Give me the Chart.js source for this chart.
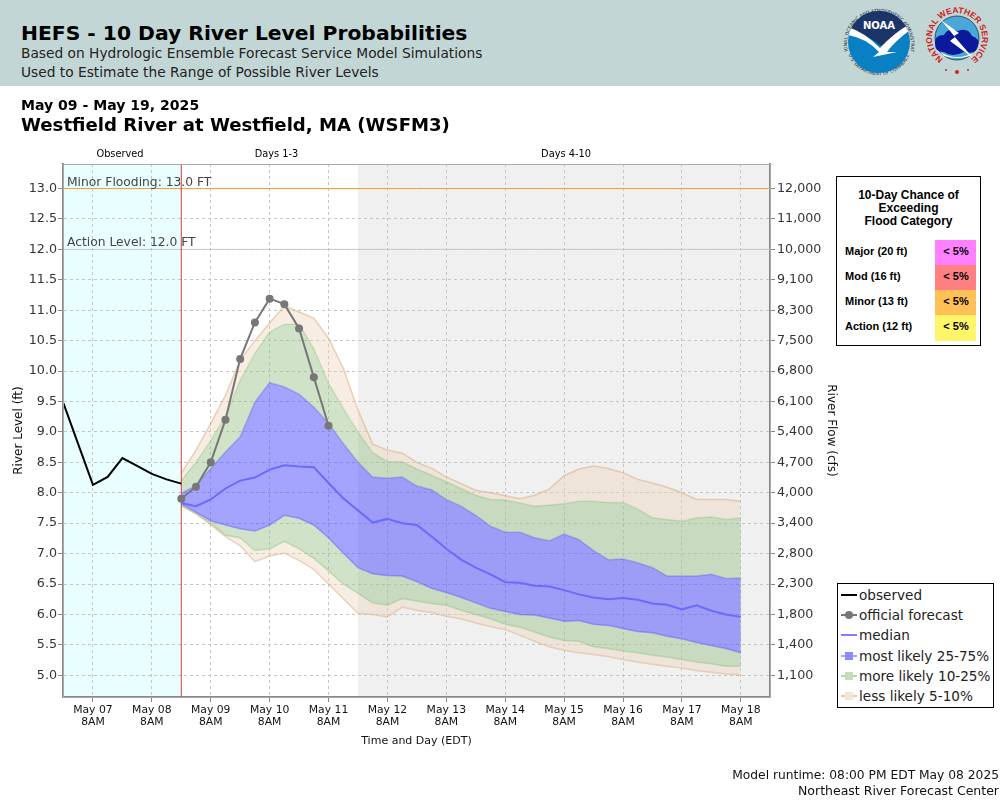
<!DOCTYPE html>
<html>
<head>
<meta charset="utf-8">
<title>HEFS - 10 Day River Level Probabilities</title>
<script src="https://cdn.jsdelivr.net/npm/chart.js@4/dist/chart.umd.js"></script>
<style>
  html, body { margin: 0; padding: 0; background: #fff; }
  body { position: relative; width: 1000px; height: 800px; overflow: hidden; font-family: "DejaVu Sans", sans-serif; color: #000; }
  #chart { position: absolute; left: 0; top: 0; }
  #banner { position: absolute; left: 0; top: 0; width: 1000px; height: 86px; background: #c2d7d5; }
  .t { position: absolute; white-space: nowrap; line-height: 1; }
  .zone { font-size: 9.8px; transform: translateX(-50%); top: 149px; }
  #floodBox { position: absolute; left: 836px; top: 176px; width: 143px; height: 168px; border: 1px solid #000; background: #fff; font-family: "Liberation Sans", sans-serif; font-weight: bold; }
  #floodTitle { position: absolute; left: 0; width: 143px; top: 12px; text-align: center; font-size: 12px; line-height: 13px; }
  .floodLabel { position: absolute; left: 8px; font-size: 11px; }
  .floodCell { position: absolute; left: 98px; width: 41px; padding-left: 1px; box-sizing: border-box; text-align: center; font-size: 11px; }
  #legendBox { position: absolute; left: 837px; top: 583px; width: 155px; height: 123px; border: 1px solid #000; background: #fff; }
  .legRow { position: absolute; left: 21px; font-size: 13.6px; line-height: 20px; color: #222; white-space: nowrap; }
  .legLine { position: absolute; left: 3px; width: 16px; height: 2px; }
  .legMark { position: absolute; left: 7px; width: 8px; height: 8px; }
</style>
</head>
<body>
<canvas id="chart" width="1000" height="800"></canvas>

<div id="banner">
  <div class="t" style="left:21px;top:23px;font-size:20.3px;font-weight:bold;">HEFS - 10 Day River Level Probabilities</div>
  <div class="t" style="left:21px;top:47px;font-size:13.76px;color:#222;">Based on Hydrologic Ensemble Forecast Service Model Simulations</div>
  <div class="t" style="left:21px;top:66px;font-size:13.76px;color:#222;">Used to Estimate the Range of Possible River Levels</div>

  <svg style="position:absolute;left:838px;top:0" width="162" height="86" viewBox="838 0 162 86">
    <defs>
      <path id="noaaTop" d="M848 52 A32 32 0 1 1 910 52"/>
      <path id="noaaBot" d="M849 56 A33 33 0 0 0 909 56"/>
      <path id="nwsRing" d="M946.4 60.7 A25 25 0 1 1 967.6 60.7"/>
      <clipPath id="noaaClip"><circle cx="879" cy="42" r="31"/></clipPath>
    </defs>
    <text font-size="4.6" fill="#223"><textPath href="#noaaTop" startOffset="50%" text-anchor="middle">NATIONAL OCEANIC AND ATMOSPHERIC ADMINISTRATION</textPath></text>
    <text font-size="4.6" fill="#223"><textPath href="#noaaBot" startOffset="50%" text-anchor="middle">U.S. DEPARTMENT OF COMMERCE</textPath></text>
    <g clip-path="url(#noaaClip)">
      <rect x="848" y="11" width="62" height="62" fill="#0a80c4"/>
      <path d="M848 11 H910 V26 Q896 36 881 46 Q866 34 848 28 Z" fill="#1c3568"/>
      <path d="M848 27 Q864 32 880 48 Q895 32 910 24 L910 30 Q894 42 887 52 L897 52 L873 57 L879 52 Q866 38 848 35 Z" fill="#fff"/>
    </g>
    <text x="879" y="29" text-anchor="middle" font-size="10" font-weight="bold" fill="#fff">NOAA</text>

    <circle cx="957" cy="38" r="22" fill="#4aa8d8" stroke="#234" stroke-width="0.8"/>
    <path d="M940 52 Q957 62 975 52 L970 56 Q957 60 944 56 Z" fill="#fff"/>
    <path d="M935 44 Q934 35 944 35 Q948 27 958 31 Q968 27 972 36 Q980 38 978 46 Q976 55 964 52 Q952 58 944 52 Q935 52 935 44 Z" fill="#0a1a9a"/>
    <path d="M941 20 L959 33 L954 36 L973 58 L950 41 L955 37 Z" fill="#fff"/>
    <text font-family="Liberation Sans" font-size="8.5" font-weight="bold" fill="#d02020"><textPath href="#nwsRing" startOffset="50%" text-anchor="middle">NATIONAL WEATHER SERVICE</textPath></text>
    <circle cx="946" cy="70" r="1" fill="#d02020"/><circle cx="968" cy="70" r="1" fill="#d02020"/>
    <circle cx="957" cy="72" r="2" fill="#d02020"/>
  </svg>
</div>

<div class="t" style="left:21px;top:98px;font-size:14.05px;font-weight:bold;">May 09 - May 19, 2025</div>
<div class="t" style="left:21px;top:116px;font-size:18.12px;font-weight:bold;">Westfield River at Westfield, MA (WSFM3)</div>

<div class="t zone" style="left:120px;">Observed</div>
<div class="t zone" style="left:276.5px;">Days 1-3</div>
<div class="t zone" style="left:566px;">Days 4-10</div>

<div id="floodBox"><div id="floodTitle"></div></div>
<div id="legendBox"></div>

<div class="t" style="right:1px;top:769px;font-size:12.27px;color:#111;">Model runtime: 08:00 PM EDT May 08 2025</div>
<div class="t" style="right:1px;top:785px;font-size:12.5px;color:#111;">Northeast River Forecast Center</div>

<script>
// hours after May 07 8AM
const obsHours = [-12, -6, 0, 6, 12, 18, 24, 30, 36];
const observed = [9.47, 8.8, 8.13, 8.26, 8.57, 8.44, 8.31, 8.22, 8.15];

const officialHours = [36, 42, 48, 54, 60, 66, 72, 78, 84, 90, 96];
const official = [7.9, 8.1, 8.5, 9.2, 10.2, 10.8, 11.19, 11.1, 10.7, 9.9, 9.1];

const bandHours = [36, 42, 48, 54, 60, 66, 72, 78, 84, 90, 96, 102, 108, 114, 120, 126, 132, 138, 144, 150,
  156, 162, 168, 174, 180, 186, 192, 198, 204, 210, 216, 222, 228, 234, 240, 246, 252, 258, 264];

const median = [7.83, 7.78, 7.89, 8.07, 8.2, 8.25, 8.38, 8.45, 8.43, 8.42, 8.16, 7.91, 7.71, 7.51, 7.57, 7.5, 7.47, 7.28, 7.08, 6.9,
  6.77, 6.66, 6.53, 6.52, 6.47, 6.46, 6.4, 6.33, 6.28, 6.25, 6.27, 6.24, 6.18, 6.16, 6.08, 6.15, 6.06, 6.0, 5.96];
const upper5 = [8.32, 8.7, 9.14, 9.6, 10.18, 10.5, 10.79, 11.07, 10.97, 10.87, 10.54, 10.05, 9.36, 8.8, 8.7, 8.65, 8.5, 8.4, 8.26, 8.15,
  8.04, 8.0, 7.95, 7.9, 7.96, 8.06, 8.28, 8.39, 8.44, 8.4, 8.33, 8.22, 8.16, 8.09, 8.0, 7.89, 7.89, 7.89, 7.86];
const upper10 = [8.2, 8.5, 8.86, 9.25, 9.85, 10.29, 10.64, 10.77, 10.77, 10.37, 9.8, 9.39, 9.0, 8.66, 8.51, 8.51, 8.39, 8.29, 8.18, 8.07,
  7.96, 7.89, 7.88, 7.83, 7.78, 7.8, 7.82, 7.86, 7.86, 7.84, 7.84, 7.73, 7.59, 7.56, 7.53, 7.59, 7.6, 7.56, 7.59];
const upper25 = [7.99, 8.12, 8.4, 8.67, 8.92, 9.49, 9.81, 9.74, 9.62, 9.41, 9.14, 8.81, 8.5, 8.26, 8.24, 8.26, 8.11, 8.05, 7.89, 7.78,
  7.63, 7.45, 7.35, 7.35, 7.26, 7.21, 7.32, 7.23, 7.05, 6.9, 6.91, 6.85, 6.77, 6.63, 6.63, 6.63, 6.66, 6.59, 6.6];
const lower25 = [7.82, 7.68, 7.54, 7.47, 7.41, 7.37, 7.47, 7.63, 7.58, 7.47, 7.26, 7.01, 6.77, 6.67, 6.64, 6.63, 6.54, 6.43, 6.36, 6.28,
  6.19, 6.1, 6.05, 6.0, 5.99, 5.94, 5.89, 5.9, 5.84, 5.82, 5.77, 5.72, 5.7, 5.64, 5.6, 5.54, 5.49, 5.44, 5.37];
const lower10 = [7.79, 7.66, 7.5, 7.3, 7.26, 7.05, 7.08, 7.2, 7.08, 6.92, 6.72, 6.5, 6.35, 6.19, 6.15, 6.26, 6.22, 6.18, 6.15, 6.07,
  6.0, 5.93, 5.84, 5.79, 5.71, 5.63, 5.57, 5.56, 5.47, 5.44, 5.4, 5.37, 5.33, 5.3, 5.26, 5.22, 5.19, 5.15, 5.15];
const lower5 = [7.79, 7.65, 7.48, 7.28, 7.13, 6.87, 6.96, 7.01, 6.89, 6.74, 6.5, 6.26, 6.02, 6.0, 5.96, 6.12, 6.07, 6.03, 5.97, 5.93,
  5.86, 5.8, 5.75, 5.66, 5.56, 5.47, 5.41, 5.37, 5.34, 5.31, 5.26, 5.22, 5.18, 5.15, 5.12, 5.08, 5.05, 5.02, 5.01];

const stageTicks = [5, 5.5, 6, 6.5, 7, 7.5, 8, 8.5, 9, 9.5, 10, 10.5, 11, 11.5, 12, 12.5, 13];
const flowTicks = ['1,100', '1,400', '1,800', '2,300', '2,800', '3,400', '4,000', '4,700', '5,400', '6,100', '6,800',
  '7,500', '8,300', '9,100', '10,000', '11,000', '12,000'];
const dayHours = [0, 24, 48, 72, 96, 120, 144, 168, 192, 216, 240, 264];
const dayLabels = ['May 07', 'May 08', 'May 09', 'May 10', 'May 11', 'May 12', 'May 13', 'May 14', 'May 15', 'May 16', 'May 17', 'May 18'];

const xMin = -12.2, xMax = 275.9, yMin = 4.643, yMax = 13.403;
const nowHour = 36, days4Hour = 108;

const floodNames = ['Major (20 ft)', 'Mod (16 ft)', 'Minor (13 ft)', 'Action (12 ft)'];
const floodChance = ['< 5%', '< 5%', '< 5%', '< 5%'];
const floodColors = ['#ff80ff', '#ff8080', '#ffc055', '#fff56a'];

const TAN_FILL = 'rgba(235,210,185,0.4)', TAN_LINE = 'rgba(215,170,125,0.5)';
const GREEN_FILL = 'rgba(150,190,130,0.45)', GREEN_LINE = 'rgba(130,190,120,0.4)';
const BLUE_FILL = 'rgba(80,80,255,0.52)', BLUE_LINE = 'rgba(100,100,255,0.5)';

function pts(xs, ys) {
  return xs.map((x, i) => ({ x: x, y: ys[i] }));
}

function band(values, line, fill) {
  return {
    data: pts(bandHours, values),
    borderColor: line,
    backgroundColor: fill || 'transparent',
    borderWidth: 1.5,
    pointRadius: 0,
    tension: 0,
    fill: fill ? '+1' : false,
    order: 5
  };
}

// shaded periods go under the grid, threshold captions go over everything
const backdrop = {
  id: 'backdrop',
  beforeDraw(chart) {
    const { ctx, chartArea: a, scales: { x } } = chart;
    ctx.save();
    ctx.fillStyle = '#e9ffff';
    ctx.fillRect(a.left, a.top, x.getPixelForValue(nowHour) - a.left, a.height);
    ctx.fillStyle = '#f0f0f0';
    ctx.fillRect(x.getPixelForValue(days4Hour), a.top, a.right - x.getPixelForValue(days4Hour), a.height);
    ctx.restore();
  },
  afterDraw(chart) {
    const { ctx, chartArea: a, scales: { y } } = chart;
    ctx.save();
    ctx.font = '12.3px "DejaVu Sans"';
    ctx.fillStyle = '#444';
    ctx.fillText('Minor Flooding: 13.0 FT', a.left + 4, y.getPixelForValue(13) - 3);
    ctx.fillText('Action Level: 12.0 FT', a.left + 4, y.getPixelForValue(12) - 3);
    ctx.strokeStyle = '#aaa';
    ctx.lineWidth = 1;
    ctx.strokeRect(a.left + 0.5, a.top + 0.5, a.width, a.height);
    ctx.restore();
  }
};

const tickFont = { family: '"DejaVu Sans"', size: 12.7 };
const titleFont = { family: '"DejaVu Sans"', size: 12 };

new Chart(document.getElementById('chart').getContext('2d'), {
  type: 'line',
  plugins: [backdrop],
  data: {
    datasets: [
      { data: pts([xMin, xMax], [13, 13]), borderColor: '#ff9a33', borderWidth: 1, pointRadius: 0, order: 8 },
      { data: pts([xMin, xMax], [12, 12]), borderColor: '#c8c8c8', borderWidth: 1, pointRadius: 0, order: 8 },
      band(upper5, TAN_LINE, TAN_FILL),
      band(upper10, GREEN_LINE, GREEN_FILL),
      band(upper25, BLUE_LINE, BLUE_FILL),
      band(lower25, BLUE_LINE, GREEN_FILL),
      band(lower10, GREEN_LINE, TAN_FILL),
      band(lower5, TAN_LINE),
      { data: pts([nowHour, nowHour], [yMin, yMax]), borderColor: '#d23c3c', borderWidth: 1, pointRadius: 0, order: 4 },
      { data: pts(bandHours, median), borderColor: '#6a6aff', borderWidth: 2, pointRadius: 0, tension: 0, order: 3 },
      { data: pts(obsHours, observed), borderColor: '#000', borderWidth: 2, pointRadius: 0, tension: 0, order: 2 },
      { data: pts(officialHours, official), borderColor: '#777', backgroundColor: '#777', borderWidth: 2, pointRadius: 4, pointBorderWidth: 0, tension: 0, order: 1 }
    ]
  },
  options: {
    responsive: false,
    animation: false,
    devicePixelRatio: 1,
    layout: { padding: { top: 164, bottom: 52, left: 0, right: 162 } },
    plugins: { legend: { display: false }, tooltip: { enabled: false } },
    scales: {
      x: {
        type: 'linear',
        min: xMin,
        max: xMax,
        afterBuildTicks: s => { s.ticks = dayHours.map(v => ({ value: v })); },
        afterFit: s => { s.height = 51; },
        ticks: {
          autoSkip: false,
          maxRotation: 0,
          padding: 2,
          color: '#111',
          font: { family: '"DejaVu Sans"', size: 10.8, lineHeight: 1.1 },
          callback: (v, i) => [dayLabels[i], '8AM']
        },
        grid: { color: '#c6c6c6', tickColor: '#888', tickLength: 5 },
        border: { color: '#888', width: 2, dash: [3, 3] },
        title: { display: true, text: 'Time and Day (EDT)', color: '#111', font: { family: '"DejaVu Sans"', size: 11 }, padding: 0 }
      },
      y: {
        type: 'linear',
        position: 'left',
        min: yMin,
        max: yMax,
        afterBuildTicks: s => { s.ticks = stageTicks.map(v => ({ value: v })); },
        afterFit: s => { s.width = 63; },
        ticks: { autoSkip: false, padding: 1, color: '#333', font: tickFont, callback: v => v.toFixed(1) },
        grid: { color: '#c6c6c6', tickColor: '#888', tickLength: 5 },
        border: { color: '#888', width: 2, dash: [3, 3] },
        title: { display: true, text: 'River Level (ft)', color: '#111', font: titleFont, padding: { top: 12, bottom: 0 } }
      },
      y1: {
        type: 'linear',
        position: 'right',
        min: yMin,
        max: yMax,
        afterBuildTicks: s => { s.ticks = stageTicks.map(v => ({ value: v })); },
        afterFit: s => { s.width = 68; },
        ticks: { autoSkip: false, padding: 2, color: '#333', font: tickFont, callback: (v, i) => flowTicks[i] },
        grid: { drawOnChartArea: false, tickColor: '#888', tickLength: 5 },
        border: { color: '#888', width: 2 },
        title: { display: true, text: 'River Flow (cfs)', color: '#111', font: titleFont, padding: 0 }
      }
    }
  }
});

// flood category box
const floodBox = document.getElementById('floodBox');
document.getElementById('floodTitle').innerHTML = '10-Day Chance of<br>Exceeding<br>Flood Category';
floodNames.forEach((name, i) => {
  const top = 63 + i * 25;
  const label = document.createElement('div');
  label.className = 'floodLabel';
  label.style.top = top + 'px';
  label.style.lineHeight = '23px';
  label.textContent = name;
  floodBox.appendChild(label);
  const cell = document.createElement('div');
  cell.className = 'floodCell';
  cell.style.top = top + 'px';
  cell.style.height = (i === 3 ? 26 : 25) + 'px';
  cell.style.lineHeight = '23px';
  cell.style.background = floodColors[i];
  cell.textContent = floodChance[i];
  floodBox.appendChild(cell);
});

// legend
const legendNames = ['observed', 'official forecast', 'median', 'most likely 25-75%', 'more likely 10-25%', 'less likely 5-10%'];
const legendLines = ['#000', '#777', '#8080ff', '#a6a6ff', '#b4d8ac', '#e6cdb4'];
const legendMarks = [null, '#777', null, '#8c8cff', '#c4dcb8', '#f0e6da'];
const legendBox = document.getElementById('legendBox');
legendNames.forEach((name, i) => {
  const y = 11 + i * 20.2;
  const row = document.createElement('div');
  row.className = 'legRow';
  row.style.top = (y - 10) + 'px';
  row.textContent = name;
  legendBox.appendChild(row);
  const line = document.createElement('div');
  line.className = 'legLine';
  line.style.top = (y - 1) + 'px';
  line.style.background = legendLines[i];
  legendBox.appendChild(line);
  if (legendMarks[i]) {
    const mark = document.createElement('div');
    mark.className = 'legMark';
    mark.style.top = (y - 4) + 'px';
    mark.style.background = legendMarks[i];
    if (i === 1) mark.style.borderRadius = '50%';
    legendBox.appendChild(mark);
  }
});
</script>
</body>
</html>
